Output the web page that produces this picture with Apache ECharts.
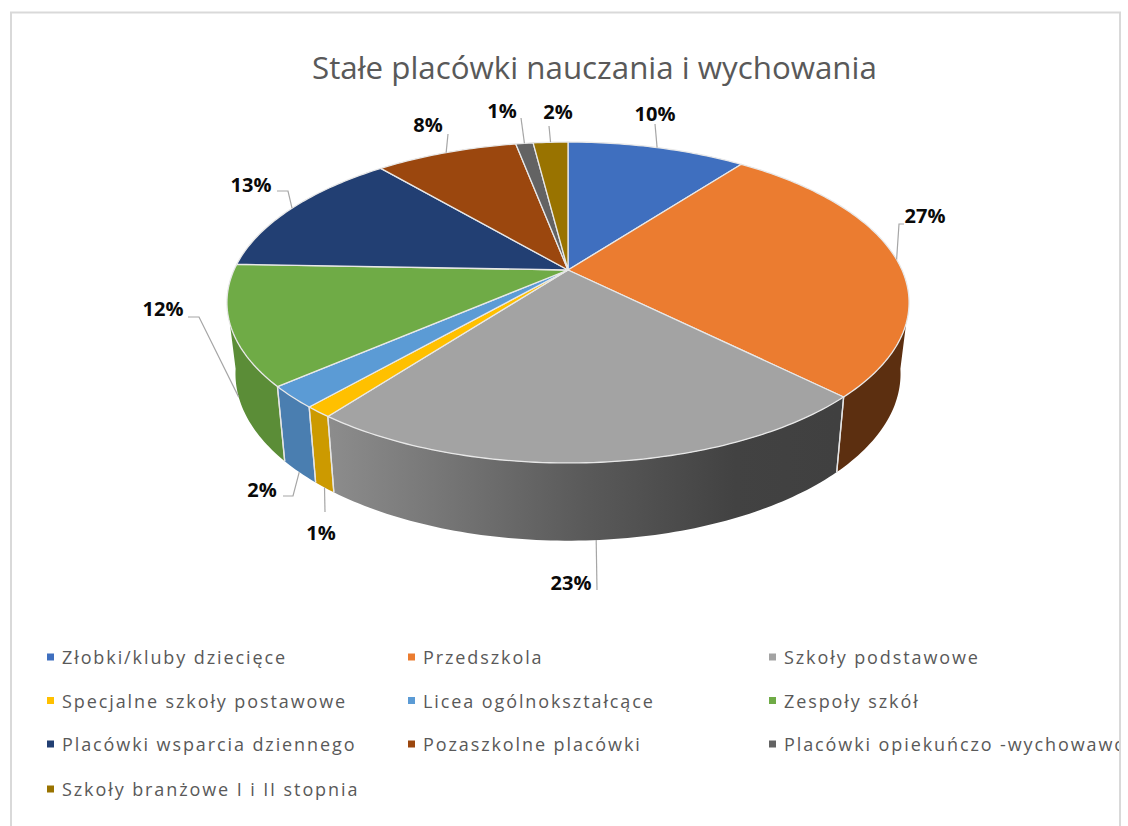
<!DOCTYPE html>
<html lang="pl">
<head>
<meta charset="UTF-8">
<title>Stałe placówki nauczania i wychowania</title>
<style>
  html, body { margin: 0; padding: 0; background: #fff; }
  #main { width: 1128px; height: 826px; }
  /* legenda w oryginale ma rozstrzelone litery */
  #main text[style*="18px"] { letter-spacing: 1.9px; }
</style>
<script src="https://cdn.jsdelivr.net/npm/echarts@6/dist/echarts.min.js"></script>
</head>
<body>
<div id="main"></div>
<script>
var titleText = 'Stałe placówki nauczania i wychowania';
var categories = ['Złobki/kluby dziecięce', 'Przedszkola', 'Szkoły podstawowe', 'Specjalne szkoły postawowe',
  'Licea ogólnokształcące', 'Zespoły szkół', 'Placówki wsparcia dziennego', 'Pozaszkolne placówki',
  'Placówki opiekuńczo -wychowawcze', 'Szkoły branżowe I i II stopnia'];
var values = [10.3, 27.2, 22.8, 1.1, 2.2, 12.0, 13.2, 8.2, 1.0, 2.0];

var topColors = ['#3f6fbf', '#eb7c30', '#a3a3a3', '#ffc000', '#5b9bd5', '#6fab46', '#223f73', '#9b470e', '#636363', '#997300'];
var wallColors = ['#2f5597', '#5c2f10', '#808080', '#cc9a00', '#4a7eb0', '#5b8d37', '#1b3259', '#7a380b', '#4f4f4f', '#7a5c00'];

// gdzie stoja etykiety (srodek tekstu) i ich lamane, lower=true gdy linia idzie od boku tortu
var labelSpots = [
  { pos: [655, 113], bend: [[655, 124]] },
  { pos: [925, 215], bend: [[899, 224], [904, 224]] },
  { pos: [571, 582], bend: [[597, 590]], lower: true },
  { pos: [321, 532], bend: [[325, 512]], lower: true },
  { pos: [262, 489], bend: [[293, 496], [283, 496]], lower: true },
  { pos: [163, 308], bend: [[199, 317], [188, 317]], lower: true },
  { pos: [251, 184], bend: [[288, 191], [277, 191]] },
  { pos: [428, 124], bend: [[448, 134]] },
  { pos: [502, 110], bend: [[521, 118]] },
  { pos: [558, 111], bend: [[549, 126]] }
];

// rzut perspektywiczny kola na ekran
var cx = 568, cy = 270, a = 334, b = 153.9, k = 0.2025;
// zakres katow, na ktorym widac bok tortu (gorna i dolna krawedz)
var wallTop = [109, 251], wallBottom = [100, 260];

function project(theta, lower) {
  var r = theta * Math.PI / 180;
  var X = Math.sin(r), Y = -Math.cos(r);
  var w = 1 - k * Y;
  var x = a * X / w, y = b * Y / w;
  if (lower) {
    x = x * 0.975;
    y = y * 1.04 + 70;
  }
  return [cx + x, cy + y];
}
function arc(from, to, lower) {
  var pts = [];
  var n = Math.max(2, Math.ceil(Math.abs(to - from)));
  for (var i = 0; i <= n; i++) {
    pts.push(project(from + (to - from) * i / n, lower));
  }
  return pts;
}

var total = 0;
for (var i = 0; i < values.length; i++) total += values[i];
var startAngles = [], acc = 0;
for (var i = 0; i < values.length; i++) {
  startAngles.push(acc / total * 360);
  acc += values[i];
}

function wallFill(idx) {
  if (idx == 2) {
    return new echarts.graphic.LinearGradient(331, 0, 836, 0, [
      { offset: 0, color: '#8c8c8c' },
      { offset: 0.5, color: '#5a5a5a' },
      { offset: 0.8, color: '#424242' },
      { offset: 1, color: '#404040' }
    ], true);
  }
  return wallColors[idx];
}

function renderSlice(idx) {
  return function (params, api) {
    var start = startAngles[idx];
    var end = start + api.value(0) / total * 360;
    var children = [];

    if (end > wallBottom[0] && start < wallBottom[1]) {
      var topS = Math.max(start, wallTop[0]), topE = Math.min(end, wallTop[1]);
      var botS = Math.max(start, wallBottom[0]), botE = Math.min(end, wallBottom[1]);
      children.push({
        type: 'polygon', z2: 1,
        shape: { points: arc(topS, topE, false).concat(arc(botE, botS, true)) },
        style: { fill: wallFill(idx) }
      });
      var edges = [];
      if (start > wallBottom[0]) edges.push(start);
      if (end < wallBottom[1]) edges.push(end);
      edges.forEach(function (t) {
        children.push({
          type: 'polyline', z2: 2,
          shape: { points: [project(t, false), project(t, true)] },
          style: { stroke: '#e4e4e4', lineWidth: 1.3, fill: null }
        });
      });
    }

    children.push({
      type: 'polygon', z2: 3,
      shape: { points: [[cx, cy]].concat(arc(start, end, false)) },
      style: { fill: topColors[idx], stroke: '#e8e8e8', lineWidth: 1.3, lineJoin: 'round' }
    });

    var spot = labelSpots[idx];
    var mid = (start + end) / 2;
    children.push({
      type: 'polyline', z2: 4,
      shape: { points: [project(mid, !!spot.lower)].concat(spot.bend) },
      style: { stroke: '#a6a6a6', lineWidth: 1.2, fill: null }
    });
    children.push({
      type: 'text', z2: 5,
      style: {
        x: spot.pos[0], y: spot.pos[1],
        text: Math.round(api.value(0) / total * 100) + '%',
        fill: '#0a0a0a',
        font: 'bold 20px "Open Sans", sans-serif',
        align: 'center', verticalAlign: 'middle'
      }
    });
    return { type: 'group', children: children };
  };
}

var series = [];
for (var i = 0; i < categories.length; i++) {
  series.push({
    name: categories[i],
    type: 'custom',
    coordinateSystem: 'none',
    silent: true,
    itemStyle: { color: topColors[i] },
    renderItem: renderSlice(i),
    data: [[values[i]]]
  });
}

function legendCol(left, top, idxs) {
  return {
    orient: 'vertical',
    left: left,
    top: top,
    padding: 0,
    icon: 'rect',
    itemWidth: 7,
    itemHeight: 7,
    itemGap: 21.5,
    selectedMode: false,
    textStyle: { fontFamily: 'Open Sans', fontSize: 18, color: '#595959', padding: [0, 0, 0, 3], lineHeight: 22 },
    data: idxs.map(function (j) { return categories[j]; })
  };
}

var myChart = echarts.init(document.getElementById('main'), null, { renderer: 'svg' });
myChart.setOption({
  animation: false,
  backgroundColor: '#fff',
  title: {
    text: titleText,
    left: 312,
    top: 51.5,
    padding: 0,
    textStyle: { fontFamily: 'Open Sans', fontSize: 31.3, fontWeight: 'normal', color: '#595959' }
  },
  legend: [
    legendCol(47, 646, [0, 3, 6]),
    legendCol(47, 778, [9]),
    legendCol(408, 646, [1, 4, 7]),
    legendCol(769, 646, [2, 5, 8])
  ],
  // ramka wykresu i biale pole za nia, ktore ucina ostatni wpis legendy
  graphic: [
    { type: 'rect', z: 100, shape: { x: 1120, y: 0, width: 8, height: 826 }, style: { fill: '#fff' } },
    {
      type: 'polyline', z: 101,
      shape: { points: [[11, 826], [11, 12.5], [1120, 12.5], [1120, 826]] },
      style: { stroke: '#d9d9d9', lineWidth: 2, fill: null }
    }
  ],
  series: series
});
</script>
</body>
</html>
